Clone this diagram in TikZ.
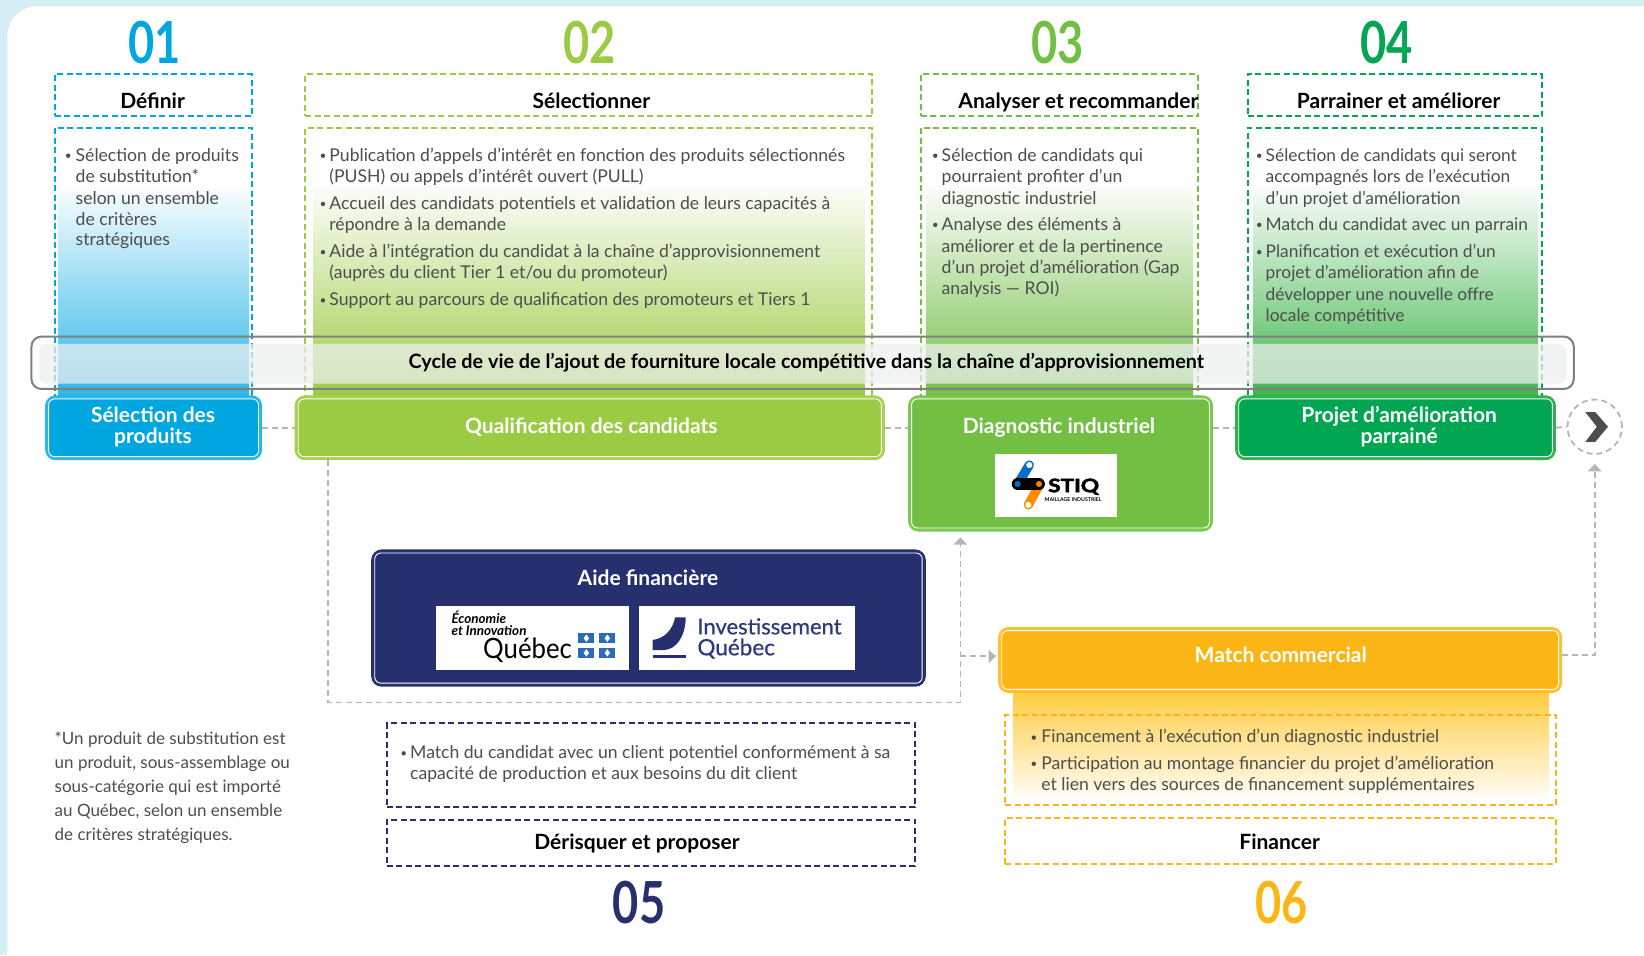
\documentclass[tikz,border=0pt]{standalone}
\usepackage{fontspec}
\setmainfont{Lato}
\usetikzlibrary{arrows.meta,calc}
\definecolor{bgblue}{HTML}{D6EFF6}
\definecolor{cA}{HTML}{00A6E0}\definecolor{cAs}{HTML}{29B6E8}
\definecolor{cB}{HTML}{9BCB42}\definecolor{cBs}{HTML}{A5D14E}
\definecolor{cC}{HTML}{72BF44}\definecolor{cCs}{HTML}{7DC850}
\definecolor{cD}{HTML}{00A651}\definecolor{cDs}{HTML}{2CB34A}\definecolor{cDg}{HTML}{3DB54A}
\definecolor{cE}{HTML}{27306E}
\definecolor{cF}{HTML}{FBB615}\definecolor{cFs}{HTML}{FDC02F}\definecolor{cFg}{HTML}{FFCB3D}
\definecolor{bodytxt}{HTML}{4D4D4D}
\definecolor{connc}{HTML}{B5B5B5}
\definecolor{barl}{HTML}{808080}
\definecolor{barf}{HTML}{EEF0F0}
\definecolor{iqblue}{HTML}{2E3A7C}
\definecolor{flagb}{HTML}{2B6CB8}
\def\lsz{17.6}
\newcommand\Numb[4]{\node[numtxt,text=#4] (#1) at (#2,#3) {\scalebox{0.78}[1]{#1}};}
\newcommand\Ln[4]{\node[linetxt] (#1) at (#2,#3+6.6) {#4};}
\newcommand\Bu[5]{\node[linetxt] (#1) at (#3,#4+6.6) {#5};\fill[bodytxt] (#2,#4+1.5) circle (2.1);}
\newcommand\Dbox[6]{\node[dbox,draw=#6,minimum width={(#4-#2)*1.0485pt},minimum height={(#5-#3)*1.0485pt}] (#1) at ({(#2+#4)/2},{(#3+#5)/2}) {};}
\newcommand\Grad[6]{\shade[top color=#6!3,bottom color=#6] (#2,#3) rectangle (#4,#5);}
\newcommand\Pbox[7]{\node[pbox,fill=#6,draw=#7,minimum width={(#4-#2)*1.0485pt-1pt},minimum height={(#5-#3)*1.0485pt-1pt}] (#1) at ({(#2+#4)/2},{(#3+#5)/2}) {};
 \draw[white,line width=0.9,rounded corners=6] ($(#1.south west)+(3.4,-3.4)$) rectangle ($(#1.north east)+(-3.4,3.4)$);}
\begin{document}
\begin{tikzpicture}[x=1.0485pt,y=-1.0485pt,
 numtxt/.style={font=\fontsize{58}{58}\selectfont\bfseries,inner sep=0},
 titletxt/.style={font=\fontsize{21}{24}\selectfont\bfseries,text=black,inner sep=0,anchor=base},
 whitetxt/.style={font=\fontsize{21}{21}\selectfont\bfseries,text=white,inner sep=0,anchor=base},
 whitetwo/.style={font=\fontsize{21}{21}\selectfont\bfseries,text=white,inner sep=0,align=center},
 linetxt/.style={font=\fontsize{\lsz}{20}\selectfont,text=bodytxt,anchor=base west,inner sep=0},
 dbox/.style={line width=2,dash pattern=on 6pt off 3.5pt,inner sep=0,rectangle},
 pbox/.style={rectangle,rounded corners=9,line width=3,inner sep=0},
 conn/.style={connc,line width=1.8,dash pattern=on 6pt off 4pt},
]
\useasboundingbox (0,0) rectangle (1568,911);
\fill[bgblue] (0,0) rectangle (1568,911);
\fill[white,rounded corners=30] (7,6) rectangle (1620,960);
% gradient columns
\Grad{gA}{56}{180}{237}{380}{cAs}
\Grad{gB}{299}{178}{825}{380}{cB}
\Grad{gC}{883}{178}{1138}{380}{cC}
\Grad{gD}{1195}{178}{1467}{380}{cDg}
\shade[top color=cFg,bottom color=white] (966,658) rectangle (1477,766);
% dashed boxes
\Dbox{hA}{52}{71}{240}{111}{cA}\Dbox{bA}{52}{122}{240}{380}{cA}
\Dbox{hB}{291}{71}{832}{111}{cB}\Dbox{bB}{291}{122}{832}{380}{cB}
\Dbox{hC}{878}{71}{1143}{111}{cC}\Dbox{bC}{878}{122}{1143}{380}{cC}
\Dbox{hD}{1190}{71}{1471}{111}{cD}\Dbox{bD}{1190}{122}{1471}{380}{cD}
\Dbox{bE}{369}{690}{873}{770}{cE}\Dbox{hE}{369}{782}{873}{826}{cE}
\Dbox{bF}{959}{682}{1484}{768}{cF}\Dbox{hF}{959}{780}{1484}{824}{cF}
% numbers
\Numb{01}{147.5}{41}{cA}\Numb{02}{562.5}{41}{cB}\Numb{03}{1008.5}{41}{cC}\Numb{04}{1322.5}{41}{cD}
\Numb{05}{609.5}{861}{cE}\Numb{06}{1222}{861}{cF}
% titles
\node[titletxt] (tA) at (145.5,103.5) {Définir};
\node[titletxt] (tB) at (564,103.5) {Sélectionner};
\node[titletxt] (tC) at (1028.5,103.5) {Analyser et recommander};
\node[titletxt] (tD) at (1334,103.5) {Parrainer et améliorer};
\node[titletxt] (tE) at (607.5,810.2) {Dérisquer et proposer};
\node[titletxt] (tF) at (1220.5,810.2) {Financer};
% body text
\Bu{a1}{65}{72}{147}{Sélection de produits}
\Ln{a2}{72}{167}{de substitution*}
\Ln{a3}{72}{188}{selon un ensemble}
\Ln{a4}{72}{208}{de critères}
\Ln{a5}{72}{228}{stratégiques}
\Bu{b1}{308}{314}{147}{Publication d’appels d’intérêt en fonction des produits sélectionnés}
\Ln{b2}{314}{167}{(PUSH) ou appels d’intérêt ouvert (PULL)}
\Bu{b3}{308}{314}{193}{Accueil des candidats potentiels et validation de leurs capacités à}
\Ln{b4}{314}{213}{répondre à la demande}
\Bu{b5}{308}{314}{239}{Aide à l’intégration du candidat à la chaîne d’approvisionnement}
\Ln{b6}{314}{259}{(auprès du client Tier 1 et/ou du promoteur)}
\Bu{b7}{308}{314}{285}{Support au parcours de qualification des promoteurs et Tiers 1}
\Bu{c1}{892}{898}{147}{Sélection de candidats qui}
\Ln{c2}{898}{167}{pourraient profiter d’un}
\Ln{c3}{898}{188}{diagnostic industriel}
\Bu{c4}{892}{898}{213}{Analyse des éléments à}
\Ln{c5}{898}{234}{améliorer et de la pertinence}
\Ln{c6}{898}{254}{d’un projet d’amélioration (Gap}
\Ln{c7}{898}{274}{analysis — ROI)}
\def\lsz{17.35}
\Bu{d1}{1201}{1207}{147}{Sélection de candidats qui seront}
\Ln{d2}{1207}{167}{accompagnés lors de l’exécution}
\Ln{d3}{1207}{188}{d’un projet d’amélioration}
\Bu{d4}{1201}{1207}{213}{Match du candidat avec un parrain}
\Bu{d5}{1201}{1207}{239}{Planification et exécution d’un}
\Ln{d6}{1207}{259}{projet d’amélioration afin de}
\Ln{d7}{1207}{280}{développer une nouvelle offre}
\Ln{d8}{1207}{300}{locale compétitive}
\def\lsz{17.6}
\Bu{e1}{385}{391}{717}{Match du candidat avec un client potentiel conformément à sa}
\Ln{e2}{391}{737}{capacité de production et aux besoins du dit client}
\Bu{f1}{986}{993}{702}{Financement à l’exécution d’un diagnostic industriel}
\Bu{f2}{986}{993}{727}{Participation au montage financier du projet d’amélioration}
\Ln{f3}{993}{747}{et lien vers des sources de financement supplémentaires}
\def\lsz{17}
\Ln{n1}{52}{703}{*Un produit de substitution est}
\Ln{n2}{52}{726}{un produit, sous-assemblage ou}
\Ln{n3}{52}{749}{sous-catégorie qui est importé}
\Ln{n4}{52}{772}{au Québec, selon un ensemble}
\Ln{n5}{52}{795}{de critères stratégiques.}
% cycle bar
\fill[barf,opacity=0.72,rounded corners=8] (37,328) rectangle (1494,366);
\draw[barl,line width=2,rounded corners=10] (30,321) rectangle (1501,371);
\node[font=\fontsize{19.8}{19.8}\selectfont\bfseries,text=black,inner sep=0] (bar) at (769,345.5) {Cycle de vie de l’ajout de fourniture locale compétitive dans la chaîne d’approvisionnement};
% process boxes
\Pbox{sel}{44}{378}{249}{438}{cA}{cAs}
\Pbox{qual}{282}{378}{843}{438}{cB}{cBs}
\Pbox{diag}{867}{378}{1156}{506}{cC}{cCs}
\Pbox{prj}{1179}{378}{1483}{438}{cD}{cDs}
\Pbox{aide}{355}{525}{882}{654}{cE}{cE}
\Pbox{match}{953}{599}{1489}{660}{cF}{cFs}
\node[whitetwo] (xA) at (146,407) {Sélection des\\[-0.5pt]produits};
\node[whitetxt] (xB) at (564,413.5) {Qualification des candidats};
\node[whitetxt] (xC) at (1010,413.5) {Diagnostic industriel};
\node[whitetwo] (xD) at (1334.5,407) {Projet d’amélioration\\[-0.5pt]parrainé};
\node[whitetxt] (xE) at (618,558) {Aide financière};
\node[whitetxt] (xF) at (1221.5,632) {Match commercial};
% next circle
\node[circle,draw=connc,line width=1.8,dash pattern=on 6pt off 4pt,minimum size={52*1.0485pt},inner sep=0,fill=white] (next) at (1521,407) {};
\fill[bodytxt] (1512,393) -- (1521.5,393) -- (1533.6,407) -- (1521.5,421.5) -- (1512,421.5) -- (1523,407) -- cycle;
% connectors
\coordinate (c1) at (313,670);\coordinate (c2) at (916,670);\coordinate (c3) at (916,519);
\coordinate (c4) at (1521,625);\coordinate (c5) at (953,626);\coordinate (c6) at (1521,449);
\draw[conn] (sel) -- (qual);
\draw[conn] (qual.east) -- (qual.east -| diag.west);
\draw[conn] (diag.east |- prj.west) -- (prj.west);
\draw[conn] (prj.east) -- (next.west);
\draw[conn] (qual.south -| c1) -- (c1) -- (c2) -- (c3);
\fill[connc] (916,512.5) -- (922.5,519.5) -- (909.5,519.5) -- cycle;
\draw[conn] (c2 |- c5) -- (c5);
\fill[connc] (949.5,626) -- (943,619.5) -- (943,632.5) -- cycle;
\draw[conn] (match.east |- c4) -- (c4) -- (c6);
\fill[connc] (1521,442.5) -- (1527.5,449.5) -- (1514.5,449.5) -- cycle;
% STIQ logo
\fill[white] (949,433) rectangle (1065,493);
\draw[line width=9.3,line cap=round,color=blue!45!cyan!80!black] (981.7,443.5) -- (971.2,461);
\draw[line width=9.3,line cap=round,color=orange!90!yellow] (991.2,462.6) -- (980.8,481.6);
\draw[line width=11.5,line cap=round,color=black] (970.4,461.6) -- (991.1,461.6);
\fill[blue!45!cyan!80!black] (970.6,461.6) circle (2.9);
\fill[orange] (991,461.6) circle (2.9);
\fill[white] (981.7,443.5) circle (2.9);
\fill[white] (980.8,481.6) circle (2.9);
\node[font=\fontsize{18.5}{19}\selectfont\bfseries\addfontfeature{FakeBold=2.5},inner sep=0,text=black] (stiq) at (1024,464.2) {\scalebox{1.22}[1]{STIQ}};
\node[font=\fontsize{5.2}{5}\selectfont\bfseries,inner sep=0,text=black] (stiqb) at (1023.5,476.2) {MAILLAGE INDUSTRIEL};
% Quebec logo
\fill[white] (416,578) rectangle (600,639);
\node[font=\fontsize{13.4}{13}\selectfont\bfseries\itshape,inner sep=0,anchor=base west,text=black] (eco1) at (430.5,594.5) {Économie};
\node[font=\fontsize{13.4}{13}\selectfont\bfseries\itshape,inner sep=0,anchor=base west,text=black] (eco2) at (430.5,606) {et Innovation};
\node[font=\fontsize{28}{28}\selectfont,inner sep=0,text=black,anchor=base] (qc1) at (503.2,628) {\scalebox{0.92}[1]{Québec}};
\foreach \fx/\fy in {551.5/604,571.5/604,551.5/618,571.5/618}{
  \fill[flagb] (\fx,\fy) rectangle ++(15.5,9.5);
  \fill[white] ($(\fx,\fy)+(7.75,1.2)$) -- ++(2.6,3.5) -- ++(-2.6,3.5) -- ++(-2.6,-3.5) -- cycle;
}
% Investissement logo
\fill[white] (609,578) rectangle (815,639);
\fill[cE] (654,588.8) -- (643.8,588.8) .. controls (642,600) and (634,609) .. (622.5,610.4) -- (622.5,620) -- (632.6,620) .. controls (646,620) and (654,605) .. cycle;
\fill[cE] (622.5,624.8) rectangle (654,627.8);
\node[font=\fontsize{22}{22}\selectfont\addfontfeature{FakeBold=0.6},inner sep=0,anchor=base west,text=iqblue] (iq1) at (665,605) {Investissement};
\node[font=\fontsize{22.5}{22}\selectfont\addfontfeature{FakeBold=0.6},inner sep=0,anchor=base west,text=iqblue] (iq2) at (665,625) {Québec};
\end{tikzpicture}
\end{document}
